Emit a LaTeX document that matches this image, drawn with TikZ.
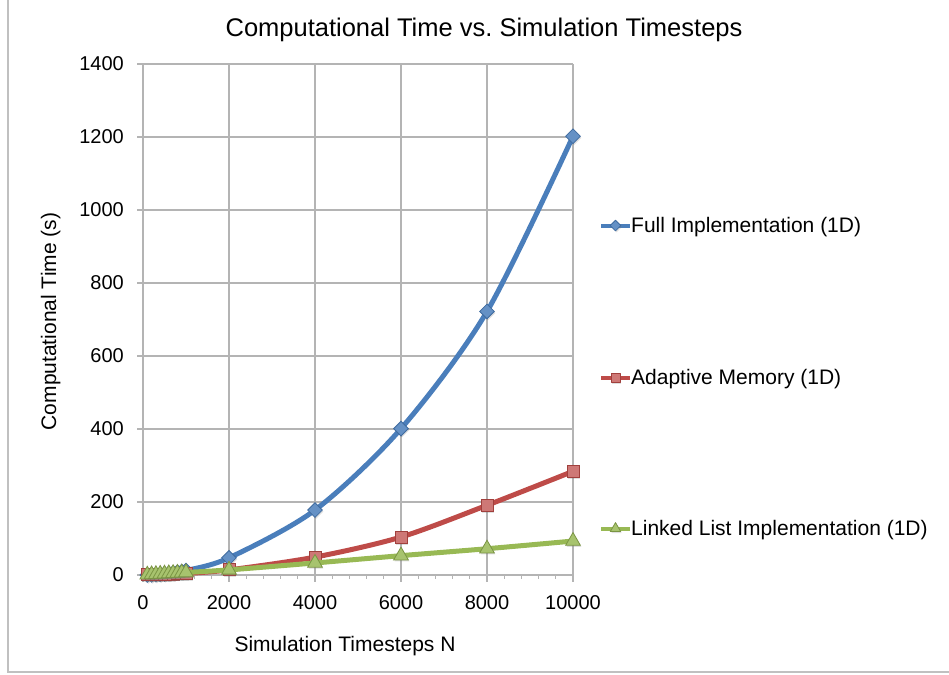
\documentclass[tikz,border=0pt]{standalone}
\usepackage{fontspec}
\setmainfont{Liberation Sans}
\usepackage{xcolor}
\usetikzlibrary{
  positioning, shapes.geometric, shadows, calc,
}
\definecolor{fullcol}{RGB}{74,126,187}
\definecolor{adaptcol}{RGB}{190,75,72}
\definecolor{linkcol}{RGB}{152,185,84}
\definecolor{gridcol}{RGB}{180,180,180}
\definecolor{framecol}{RGB}{192,192,192}
\tikzset{
  gridline/.style={gridcol,line width=1.1pt},
  chartframe/.style={framecol,line width=1.5pt},
  seriesline/.style={line width=5pt,line join=round,line cap=round},
  ticklabel/.style={font=\fontsize{20}{24}\selectfont,inner sep=0pt},
  axislabel/.style={font=\fontsize{21}{25}\selectfont,inner sep=0pt,anchor=base},
  titletext/.style={font=\fontsize{25.5}{30}\selectfont,inner sep=0pt,anchor=base},
  legtext/.style={font=\fontsize{21}{25}\selectfont,inner sep=1pt,anchor=base west},
  markbase/.style={inner sep=0pt,line width=0.8pt,
    drop shadow={opacity=0.25,shadow xshift=1pt,shadow yshift=-1.5pt}},
  fullmark/.style={markbase,diamond,minimum size=15pt,fill=fullcol!85!white,draw=fullcol!85!black},
  adaptmark/.style={markbase,rectangle,minimum size=12pt,fill=adaptcol!75!white,draw=adaptcol!85!black},
  linkmark/.style={markbase,regular polygon,regular polygon sides=3,minimum size=17pt,
    fill=linkcol!85!white,draw=linkcol!80!black},
}

\begin{document}
\begin{tikzpicture}[x=1pt,y=1pt]
  \useasboundingbox (0,0) rectangle (949,674);
  \draw[chartframe] (8,2) rectangle (970,700);
  \node[titletext] (title) at (484,637) {Computational Time vs.\ Simulation Timesteps};
  \node[axislabel] (xlabel) at (345,22.5) {Simulation Timesteps N};
  \node[axislabel,rotate=90] (ylabel) at (56,352.5) {Computational Time (s)};
  \begin{scope}[shift={(143,99)},x=0.043pt,y=0.365pt]
    % grid, ticks and tick labels
    \foreach \v in {0,200,...,1400} {
      \draw[gridline] ([xshift=-6pt]0,\v) -- (10000,\v);
      \node[ticklabel,anchor=east] (ytick\v) at ([xshift=-19pt]0,\v) {\v};
    }
    \foreach \v in {0,2000,...,10000} {
      \draw[gridline] ([yshift=-7pt]\v,0) -- (\v,1400);
      \node[ticklabel,anchor=base] (xtick\v) at ([yshift=-34pt]\v,0) {\v};
    }
    \foreach \v in {400,800,...,9600}
      \draw[gridline] (\v,0) -- ([yshift=-4pt]\v,0);
    % full implementation
    \draw[seriesline,fullcol] plot[smooth] coordinates {(100,0.12) (200,0.48) (300,1.1) (400,1.9)
      (500,3) (600,4.3) (700,5.9) (800,7.7) (900,9.7) (1000,12) (2000,47) (4000,178)
      (6000,401) (8000,722) (10000,1202)};
    \foreach \x/\y [count=\i] in {100/0.12,200/0.48,300/1.1,400/1.9,500/3,600/4.3,700/5.9,
      800/7.7,900/9.7,1000/12,2000/47,4000/178,6000/401,8000/722,10000/1202}
      \node[fullmark] (full\i) at (\x,\y) {};
    % adaptive memory
    \draw[seriesline,adaptcol] plot[smooth] coordinates {(100,0.4) (200,0.8) (300,1.2) (400,1.6)
      (500,2) (600,2.4) (700,2.8) (800,3.2) (900,3.6) (1000,4) (2000,14) (4000,49)
      (6000,104) (8000,191) (10000,284)};
    \foreach \x/\y [count=\i] in {100/0.4,200/0.8,300/1.2,400/1.6,500/2,600/2.4,700/2.8,
      800/3.2,900/3.6,1000/4,2000/14,4000/49,6000/104,8000/191,10000/284}
      \node[adaptmark] (adapt\i) at (\x,\y) {};
    % linked list
    \draw[seriesline,linkcol] plot[smooth] coordinates {(100,0.7) (200,1.4) (300,2.1) (400,2.8)
      (500,3.5) (600,4.2) (700,4.9) (800,5.6) (900,6.3) (1000,7) (2000,14) (4000,33)
      (6000,53) (8000,72) (10000,93)};
    \foreach \x/\y [count=\i] in {100/0.7,200/1.4,300/2.1,400/2.8,500/3.5,600/4.2,700/4.9,
      800/5.6,900/6.3,1000/7,2000/14,4000/33,6000/53,8000/72,10000/93}
      \node[linkmark] (link\i) at (\x,\y) {};
  \end{scope}
  % legend
  \node[legtext] (legfull) at (630,441) {Full Implementation (1D)};
  \node[legtext] (legadapt) at (630,289) {Adaptive Memory (1D)};
  \node[legtext] (leglink) at (630,138) {Linked List Implementation (1D)};
  \foreach \s/\m in {legfull/fullmark,legadapt/adaptmark,leglink/linkmark} {
    \coordinate (\s end) at ([yshift=2pt]\s.west);
    \coordinate (\s start) at ([xshift=-29pt]\s end);
  }
  \draw[seriesline,line width=4pt,line cap=butt,fullcol] (legfullstart) -- (legfullend)
    node[midway,fullmark,minimum size=11pt] (legfullmark) {};
  \draw[seriesline,line width=4pt,line cap=butt,adaptcol] (legadaptstart) -- (legadaptend)
    node[midway,adaptmark,minimum size=9pt] (legadaptmark) {};
  \draw[seriesline,line width=4pt,line cap=butt,linkcol] (leglinkstart) -- (leglinkend)
    node[midway,linkmark,minimum size=12pt] (leglinkmark) {};
\end{tikzpicture}
\end{document}
